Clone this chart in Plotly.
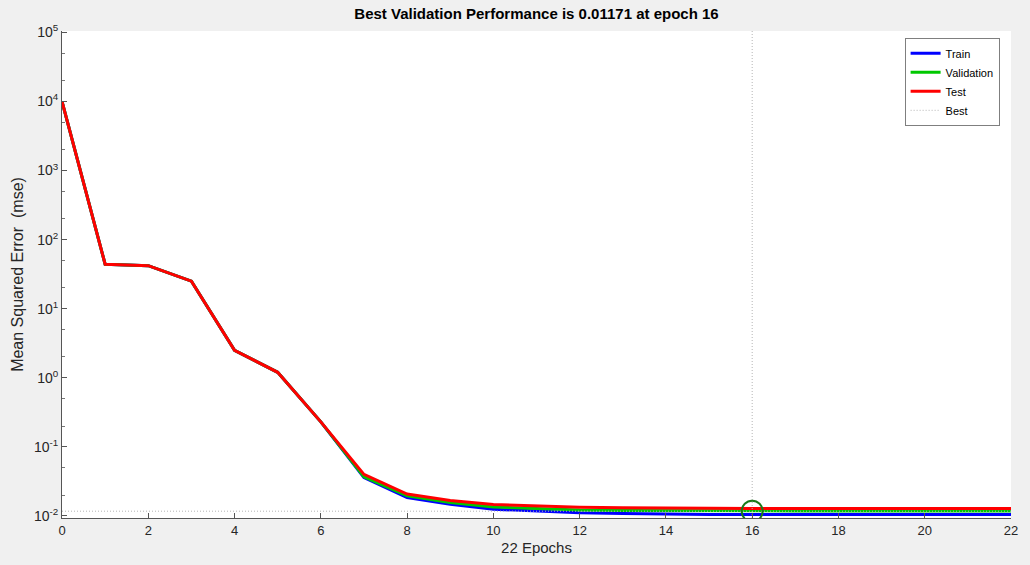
import plotly.graph_objects as go

epochs = list(range(23))
train = [10000, 44, 42, 25, 2.5, 1.2, 0.23, 0.036, 0.0185, 0.0148, 0.0125, 0.0117, 0.0111,
         0.0108, 0.0106, 0.0105, 0.0105, 0.0105, 0.0105, 0.0105, 0.0105, 0.0105, 0.0105]
validation = [10000, 44, 42, 25, 2.5, 1.2, 0.23, 0.037, 0.0195, 0.0157, 0.0135, 0.0127, 0.0122,
              0.0120, 0.0119, 0.01178, 0.01171, 0.0118, 0.0118, 0.0118, 0.0118, 0.0118, 0.0118]
test = [10000, 44, 42, 25, 2.5, 1.2, 0.23, 0.040, 0.0207, 0.0167, 0.0146, 0.0139, 0.0134,
        0.0131, 0.0129, 0.0128, 0.0128, 0.0128, 0.0128, 0.0128, 0.0128, 0.0128, 0.0128]
best_epoch = 16
best_perf = 0.01171
y_tick_powers = [-2, -1, 0, 1, 2, 3, 4, 5]
x_ticks = list(range(0, 23, 2))

fig = go.Figure()
fig.add_trace(go.Scatter(x=epochs, y=train, mode="lines", name="Train",
                         line=dict(color="#0000ff", width=3)))
fig.add_trace(go.Scatter(x=epochs, y=validation, mode="lines", name="Validation",
                         line=dict(color="#00c800", width=3)))
fig.add_trace(go.Scatter(x=epochs, y=test, mode="lines", name="Test",
                         line=dict(color="#ff0000", width=3)))
fig.add_trace(go.Scatter(x=[best_epoch, best_epoch], y=[10 ** -2.03, 10 ** 5.02], mode="lines",
                         name="Best", line=dict(color="#b4b4b4", width=1, dash="1px,2px")))
fig.add_trace(go.Scatter(x=[0, 22], y=[best_perf, best_perf], mode="lines", showlegend=False,
                         line=dict(color="#b4b4b4", width=1, dash="1px,2px")))
fig.add_trace(go.Scatter(x=[best_epoch], y=[best_perf], mode="markers", showlegend=False,
                         marker=dict(size=21, color="rgba(0,0,0,0)",
                                     line=dict(color="#1a7a1a", width=2))))

fig.update_layout(
    width=1030, height=565,
    paper_bgcolor="#f0f0f0", plot_bgcolor="white",
    margin=dict(l=62, r=16, t=31, b=43),
    font=dict(family="Liberation Sans, Arial, sans-serif", size=13, color="#262626"),
    title=dict(text="<b>Best Validation Performance is 0.01171 at epoch 16</b>",
               x=0.5, xref="paper", xanchor="center", y=0.985, yanchor="top",
               font=dict(size=15, color="black")),
    legend=dict(x=0.988, y=0.986, xanchor="right", yanchor="top",
                bgcolor="white", bordercolor="#7f7f7f", borderwidth=1,
                font=dict(size=11, color="black"), tracegroupgap=0,
                itemwidth=30),
    showlegend=True,
)
fig.update_xaxes(
    range=[0, 22], tickvals=x_ticks, ticks="inside", ticklen=5, tickcolor="#555",
    tickfont=dict(size=13),
    showline=True, linecolor="#555", linewidth=1, showgrid=False, zeroline=False,
    title=dict(text="22 Epochs", standoff=5, font=dict(size=15)),
)
fig.update_yaxes(
    type="log", range=[-2.03, 5.02],
    tickvals=[10 ** p for p in y_tick_powers],
    ticktext=[f"10<sup>{p}</sup>" for p in y_tick_powers],
    tickfont=dict(size=14),
    ticks="inside", ticklen=5, tickcolor="#555",
    minor=dict(ticks="inside", ticklen=3, tickcolor="#777", showgrid=False),
    showline=True, linecolor="#555", linewidth=1, showgrid=False, zeroline=False,
    title=dict(text="Mean Squared Error  (mse)", standoff=6, font=dict(size=16)),
)

fig.write_html("out.html")
